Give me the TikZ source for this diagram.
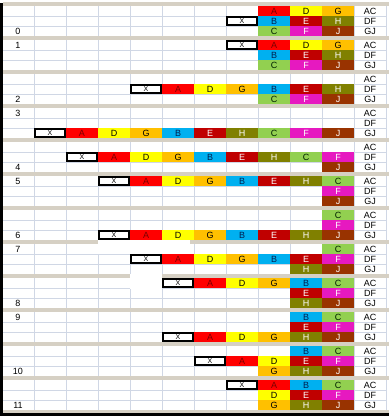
\documentclass[tikz,border=0pt]{standalone}
\usepackage{fontspec}
\setmainfont{Liberation Sans}
\definecolor{band}{HTML}{D6D0C4}
\definecolor{grid}{HTML}{D0D7E5}
\definecolor{fA}{HTML}{FF0000}\definecolor{tA}{HTML}{7A0000}
\definecolor{fD}{HTML}{FFFF00}\definecolor{tD}{HTML}{000000}
\definecolor{fG}{HTML}{FFC000}\definecolor{tG}{HTML}{000000}
\definecolor{fB}{HTML}{00B0F0}\definecolor{tB}{HTML}{002050}
\definecolor{fE}{HTML}{C00000}\definecolor{tE}{HTML}{FFFFFF}
\definecolor{fH}{HTML}{808000}\definecolor{tH}{HTML}{FFFFFF}
\definecolor{fC}{HTML}{92D050}\definecolor{tC}{HTML}{002000}
\definecolor{fF}{HTML}{E619C0}\definecolor{tF}{HTML}{FFFFFF}
\definecolor{fJ}{HTML}{993300}\definecolor{tJ}{HTML}{FFFFFF}
\begin{document}
\begin{tikzpicture}[x=1pt,y=-1pt,
  cellbase/.style={inner sep=0pt,outer sep=0pt,minimum width=32pt,minimum height=10pt,font=\fontsize{9}{9}\selectfont},
  cellA/.style={cellbase,fill=fA,text=tA},
  cellD/.style={cellbase,fill=fD,text=tD},
  cellG/.style={cellbase,fill=fG,text=tG},
  cellB/.style={cellbase,fill=fB,text=tB},
  cellE/.style={cellbase,fill=fE,text=tE},
  cellH/.style={cellbase,fill=fH,text=tH},
  cellC/.style={cellbase,fill=fC,text=tC},
  cellF/.style={cellbase,fill=fF,text=tF},
  cellJ/.style={cellbase,fill=fJ,text=tJ},
  cellX/.style={inner sep=0pt,outer sep=0pt,minimum width=30.4pt,minimum height=8.4pt,fill=white,draw=black,line width=1.6pt,font=\fontsize{7}{7}\selectfont},
  numlab/.style={inner sep=0pt,font=\fontsize{9}{9}\selectfont,text=black},
  rowlab/.style={inner sep=0pt,font=\fontsize{9}{9}\selectfont,text=black},
  gridline/.style={draw=grid,line width=0.8pt}]
\useasboundingbox (0,0) rectangle (389,417);
\fill[white] (0,0) rectangle (389,417);
% grid
\foreach \k in {0,...,11}{
  \draw[gridline] (2,{16+34*\k}) -- (386,{16+34*\k});
  \draw[gridline] (2,{26+34*\k}) -- (386,{26+34*\k});
}
\foreach \c in {0,...,10}{
  \draw[gridline] ({34+32*\c},2) -- ({34+32*\c},412);
}
\draw[gridline] (386,2) -- (386,412);
% bands
\foreach \k in {0,...,12}{
  \fill[band] (3,{2+34*\k}) rectangle (389,{6+34*\k});
}
% white patches
\fill[white] (98,240) rectangle (190,253.5);
\fill[white] (130,274) rectangle (162,288.5);
% cells
\foreach \g/\r/\c/\l in {
 0/1/8/A,0/1/9/D,0/1/10/G,0/2/7/X,0/2/8/B,0/2/9/E,0/2/10/H,0/3/8/C,0/3/9/F,0/3/10/J,
 1/1/7/X,1/1/8/A,1/1/9/D,1/1/10/G,1/2/8/B,1/2/9/E,1/2/10/H,1/3/8/C,1/3/9/F,1/3/10/J,
 2/2/4/X,2/2/5/A,2/2/6/D,2/2/7/G,2/2/8/B,2/2/9/E,2/2/10/H,2/3/8/C,2/3/9/F,2/3/10/J,
 3/3/1/X,3/3/2/A,3/3/3/D,3/3/4/G,3/3/5/B,3/3/6/E,3/3/7/H,3/3/8/C,3/3/9/F,3/3/10/J,
 4/2/2/X,4/2/3/A,4/2/4/D,4/2/5/G,4/2/6/B,4/2/7/E,4/2/8/H,4/2/9/C,4/2/10/F,4/3/10/J,
 5/1/3/X,5/1/4/A,5/1/5/D,5/1/6/G,5/1/7/B,5/1/8/E,5/1/9/H,5/1/10/C,5/2/10/F,5/3/10/J,
 6/1/10/C,6/2/10/F,6/3/3/X,6/3/4/A,6/3/5/D,6/3/6/G,6/3/7/B,6/3/8/E,6/3/9/H,6/3/10/J,
 7/1/10/C,7/2/4/X,7/2/5/A,7/2/6/D,7/2/7/G,7/2/8/B,7/2/9/E,7/2/10/F,7/3/9/H,7/3/10/J,
 8/1/5/X,8/1/6/A,8/1/7/D,8/1/8/G,8/1/9/B,8/1/10/C,8/2/9/E,8/2/10/F,8/3/9/H,8/3/10/J,
 9/1/9/B,9/1/10/C,9/2/9/E,9/2/10/F,9/3/5/X,9/3/6/A,9/3/7/D,9/3/8/G,9/3/9/H,9/3/10/J,
 10/1/9/B,10/1/10/C,10/2/6/X,10/2/7/A,10/2/8/D,10/2/9/E,10/2/10/F,10/3/8/G,10/3/9/H,10/3/10/J,
 11/1/7/X,11/1/8/A,11/1/9/B,11/1/10/C,11/2/8/D,11/2/9/E,11/2/10/F,11/3/8/G,11/3/9/H,11/3/10/J}{
  \node[cell\l] (n-\g-\r-\c) at ({18+32*\c},{11+34*\g+10*(\r-1)}) {\l};
}
% row labels
\foreach \g in {0,...,11}{
  \node[rowlab] (ac-\g) at (370,{11+34*\g}) {AC};
  \node[rowlab] (df-\g) at (370,{21+34*\g}) {DF};
  \node[rowlab] (gj-\g) at (370,{31+34*\g}) {GJ};
}
% step numbers
\foreach \g/\r in {0/3,1/1,2/3,3/1,4/3,5/1,6/3,7/1,8/3,9/1,10/3,11/3}{
  \node[numlab] (num-\g) at (18,{11+34*\g+10*(\r-1)}) {\g};
}
% borders
\fill[black] (0,3) rectangle (3,415.5);
\fill[black] (0,412.5) rectangle (389,415.5);
\end{tikzpicture}
\end{document}
